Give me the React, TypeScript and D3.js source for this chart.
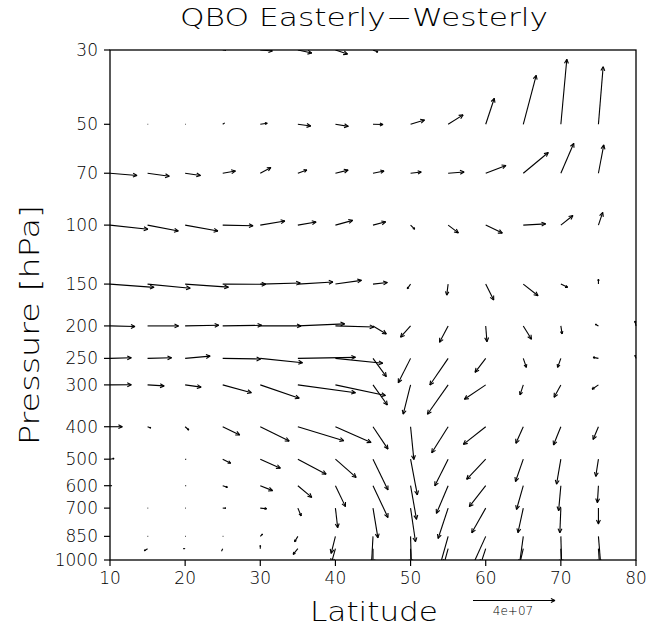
import React, { useRef, useEffect } from 'react';
import * as d3 from 'd3';

// pressure levels (hPa), bottom to top, and latitudes of the grid
const levels = [1000, 925, 850, 700, 600, 500, 400, 300, 250, 200, 150, 100, 70, 50, 30];
const lats = [10, 15, 20, 25, 30, 35, 40, 45, 50, 55, 60, 65, 70, 75, 80];

const pressureTicks = [30, 50, 70, 100, 150, 200, 250, 300, 400, 500, 600, 700, 850, 1000];
const latTicks = [10, 20, 30, 40, 50, 60, 70, 80];

// horizontal component (units of 1e6), one row per level, columns = lats
const u = [
  [0, 0, 0, 0, 0, 0, 0, 0, 0, 0, 0, 0, 0, 0, 0],
  [0, -1.6, -1.0, -0.6, 0, -2.3, -1.9, 0, 0.2, -2.0, -2.4, -1.7, 0.2, 0.5, 0],
  [0, 0.3, 0.3, 0.3, 1.1, -1.6, -2.1, -0.8, 0.4, -4.1, -6.6, -2.0, 0.4, 1.2, 0],
  [0, 0.3, 0.3, 1.5, 3.1, 1.6, 1.1, 2.4, 2.4, -4.9, -6.8, -2.6, -0.5, 0, 0],
  [1.0, 0, 0.5, 2.3, 6.0, 6.8, 4.9, 7.3, 2.9, -5.7, -8.0, -3.3, -1.1, -0.5, 0],
  [2.0, 0, 0.5, 3.9, 9.8, 13.8, 10.1, 7.3, 3.3, -6.5, -9.3, -3.8, -2.1, -1.3, 0],
  [6.0, 1.6, 1.8, 8.3, 14.1, 22.4, 17.4, 7.3, 1.6, -8.0, -10.9, -3.6, -3.6, -2.6, 0],
  [10.4, 8.1, 7.8, 14.0, 19.0, 28.1, 24.4, 7.0, -3.6, -10.1, -10.4, -1.6, -3.3, -3.1, 0],
  [10.4, 11.7, 12.2, 18.5, 20.6, 28.1, 23.1, 6.5, -6.0, -8.9, -5.2, 1.5, -1.6, -2.6, -0.5],
  [12.2, 15.1, 16.4, 19.0, 19.9, 22.8, 18.7, 6.5, -4.9, -4.2, 0.6, 4.0, 0.6, -1.5, -0.5],
  [21.5, 20.8, 21.1, 21.0, 19.5, 17.1, 12.7, 7.0, -1.6, -0.7, 3.9, 7.2, 3.3, 0, 0],
  [18.5, 15.0, 16.0, 14.8, 12.0, 8.9, 8.4, 6.2, 2.0, 5.0, 8.1, 10.9, 5.9, 2.1, 0],
  [13.2, 10.6, 7.5, 6.2, 5.2, 4.4, 6.2, 5.4, 5.2, 7.8, 9.9, 12.2, 6.3, 2.6, 0],
  [0, 0.3, 0.3, 1.0, 3.4, 6.3, 6.3, 4.9, 6.8, 7.3, 4.2, 6.3, 2.9, 2.3, 0],
  [0, 0, 0, 1.5, 5.9, 6.8, 5.9, 2.4, 0, 0, 0, 0, 0, 0, 0],
];

// vertical component (units of 1e6, positive upward), same layout as u
const w = [
  [0, 0, 0, 0, 0, 0, 0, 0, 0, 0, 0, 0, 0, 0, 0],
  [0, -1.0, 0, -1.3, 1.5, -2.8, -6.8, -7.3, -7.3, -7.3, -7.3, -7.3, -7.3, -7.3, 0],
  [0, 0, 0, 0, 1.1, -2.6, -8.3, -14.6, -14.6, -14.6, -14.6, -14.6, -14.6, -14.6, 0],
  [0, 0, 0, 0, -0.3, -3.8, -9.6, -14.5, -16.4, -14.8, -12.0, -12.0, -12.0, -7.8, 0],
  [0, 0, 0, -0.8, -2.4, -5.7, -10.2, -15.5, -16.4, -13.5, -10.2, -11.6, -12.2, -8.3, 0],
  [0.3, 0, -0.1, -2.0, -4.4, -7.3, -8.9, -15.0, -17.4, -13.0, -9.8, -10.9, -12.2, -8.4, 0],
  [0, -0.6, -1.6, -4.0, -7.0, -6.8, -7.7, -10.9, -16.0, -12.7, -8.6, -8.1, -8.9, -6.2, 0],
  [0.1, -0.5, -1.1, -3.8, -6.5, -3.8, -5.2, -9.8, -14.3, -14.3, -7.0, -4.9, -6.0, -2.1, 0],
  [0.3, 0.3, 1.1, -0.3, -2.1, 0.5, -2.4, -8.9, -11.9, -13.0, -6.8, -4.4, -4.4, 0.5, 1.5],
  [-0.3, 0, 0.3, 0.3, 0, 1.0, -0.5, -3.9, -5.5, -8.0, -7.7, -6.5, -3.9, 0.8, 2.4],
  [-1.6, -2.0, -1.5, -0.1, 0.5, 1.0, 1.8, 0.8, -2.3, -5.4, -7.8, -5.7, -1.6, 2.4, 0],
  [-2.0, -2.9, -2.9, -0.3, 2.0, 1.5, 2.3, 1.6, -2.0, -3.8, -3.9, 0.6, 4.7, 6.2, 0],
  [-1.1, -1.5, -1.1, 1.1, 2.8, 1.6, 1.5, 1.1, 0.6, 0.6, 3.8, 10.1, 14.6, 13.8, 0],
  [0, 0, 0, 0.7, 0.5, -0.8, -1.0, -0.1, 2.1, 4.6, 12.7, 23.9, 31.7, 28.1, 0],
  [0, 0, 0, 0, -0.5, -1.5, -2.0, -1.0, 0, 0, 0, 0, 0, 0, 0],
];

const refValue = 40; // 4e+07 in units of 1e6
const refLabel = '4e+07';

const font = "'DejaVu Sans', sans-serif";

function QboVectors() {
  const ref = useRef<SVGSVGElement>(null);

  useEffect(() => {
    const svg = d3.select(ref.current);
    svg.selectAll('*').remove();

    const left = 110, right = 636, top = 50, bottom = 560;

    const x = d3.scaleLinear().domain([10, 80]).range([left, right]);
    const y = d3.scaleLog().domain([1000, 30]).range([bottom, top]);
    // arrow length scale: reference vector is 82px long
    const len = d3.scaleLinear().domain([0, refValue]).range([0, 82]);

    svg.append('defs').append('clipPath').attr('id', 'plotClip')
      .append('rect')
      .attr('x', left - 3).attr('y', top)
      .attr('width', right - left + 6).attr('height', bottom - top);

    const drawArrow = (g: any, x0: number, y0: number, dx: number, dy: number) => {
      const x1 = x0 + dx, y1 = y0 + dy;
      const L = Math.hypot(dx, dy);
      if (L < 0.4) return;
      g.append('line')
        .attr('x1', x0).attr('y1', y0).attr('x2', x1).attr('y2', y1)
        .attr('stroke', 'black').attr('stroke-width', 1.1);
      if (L < 3) return;
      const a = Math.atan2(dy, dx);
      const h = Math.min(4.5, L * 0.35);
      [0.45, -0.45].forEach(s => {
        g.append('line')
          .attr('x1', x1).attr('y1', y1)
          .attr('x2', x1 - h * Math.cos(a + s)).attr('y2', y1 - h * Math.sin(a + s))
          .attr('stroke', 'black').attr('stroke-width', 1.1);
      });
    };

    // vectors, clipped to the plot area
    const vg = svg.append('g').attr('clip-path', 'url(#plotClip)');
    levels.forEach((p, i) => {
      lats.forEach((lat, j) => {
        const du = u[i][j], dw = w[i][j];
        const dx = Math.sign(du) * len(Math.abs(du));
        const dy = -Math.sign(dw) * len(Math.abs(dw));
        drawArrow(vg, x(lat), y(p), dx, dy);
      });
    });

    // frame
    svg.append('rect')
      .attr('x', left).attr('y', top)
      .attr('width', right - left).attr('height', bottom - top)
      .attr('fill', 'none').attr('stroke', 'black').attr('stroke-width', 1.3);

    // left axis
    const yAxis = svg.append('g');
    pressureTicks.forEach(p => {
      yAxis.append('line')
        .attr('x1', left - 6).attr('x2', left)
        .attr('y1', y(p)).attr('y2', y(p))
        .attr('stroke', 'black').attr('stroke-width', 1.2);
      yAxis.append('text')
        .attr('x', left - 12).attr('y', y(p))
        .attr('text-anchor', 'end').attr('dominant-baseline', 'central')
        .attr('font-family', font).attr('font-weight', 200).attr('font-size', 17)
        .text(p);
    });

    // bottom axis
    const xAxis = svg.append('g');
    latTicks.forEach(t => {
      xAxis.append('line')
        .attr('x1', x(t)).attr('x2', x(t))
        .attr('y1', bottom).attr('y2', bottom + 6)
        .attr('stroke', 'black').attr('stroke-width', 1.2);
      xAxis.append('text')
        .attr('x', x(t)).attr('y', bottom + 18)
        .attr('text-anchor', 'middle').attr('dominant-baseline', 'central')
        .attr('font-family', font).attr('font-weight', 200).attr('font-size', 17)
        .text(t);
    });

    // titles
    svg.append('text')
      .attr('x', 364).attr('y', 18)
      .attr('text-anchor', 'middle').attr('dominant-baseline', 'central')
      .attr('font-family', font).attr('font-weight', 200).attr('font-size', 24)
      .attr('textLength', 368).attr('lengthAdjust', 'spacingAndGlyphs')
      .text('QBO Easterly\u2212Westerly');

    svg.append('text')
      .attr('x', 374).attr('y', 612)
      .attr('text-anchor', 'middle').attr('dominant-baseline', 'central')
      .attr('font-family', font).attr('font-weight', 200).attr('font-size', 26)
      .attr('textLength', 128).attr('lengthAdjust', 'spacingAndGlyphs')
      .text('Latitude');

    svg.append('text')
      .attr('transform', 'translate(30,325) rotate(-90)')
      .attr('text-anchor', 'middle').attr('dominant-baseline', 'central')
      .attr('font-family', font).attr('font-weight', 200).attr('font-size', 26)
      .attr('textLength', 240).attr('lengthAdjust', 'spacingAndGlyphs')
      .text('Pressure [hPa]');

    // reference vector
    const rg = svg.append('g');
    drawArrow(rg, 473, 600.5, len(refValue), 0);
    rg.append('text')
      .attr('x', 513).attr('y', 611)
      .attr('text-anchor', 'middle').attr('dominant-baseline', 'central')
      .attr('font-family', font).attr('font-weight', 200).attr('font-size', 12)
      .text(refLabel);
  }, []);

  return (
    <svg ref={ref} width={649} height={635}
      style={{ position: 'absolute', left: 0, top: 0, background: 'white' }} />
  );
}

export default function App() {
  return <QboVectors />;
}
